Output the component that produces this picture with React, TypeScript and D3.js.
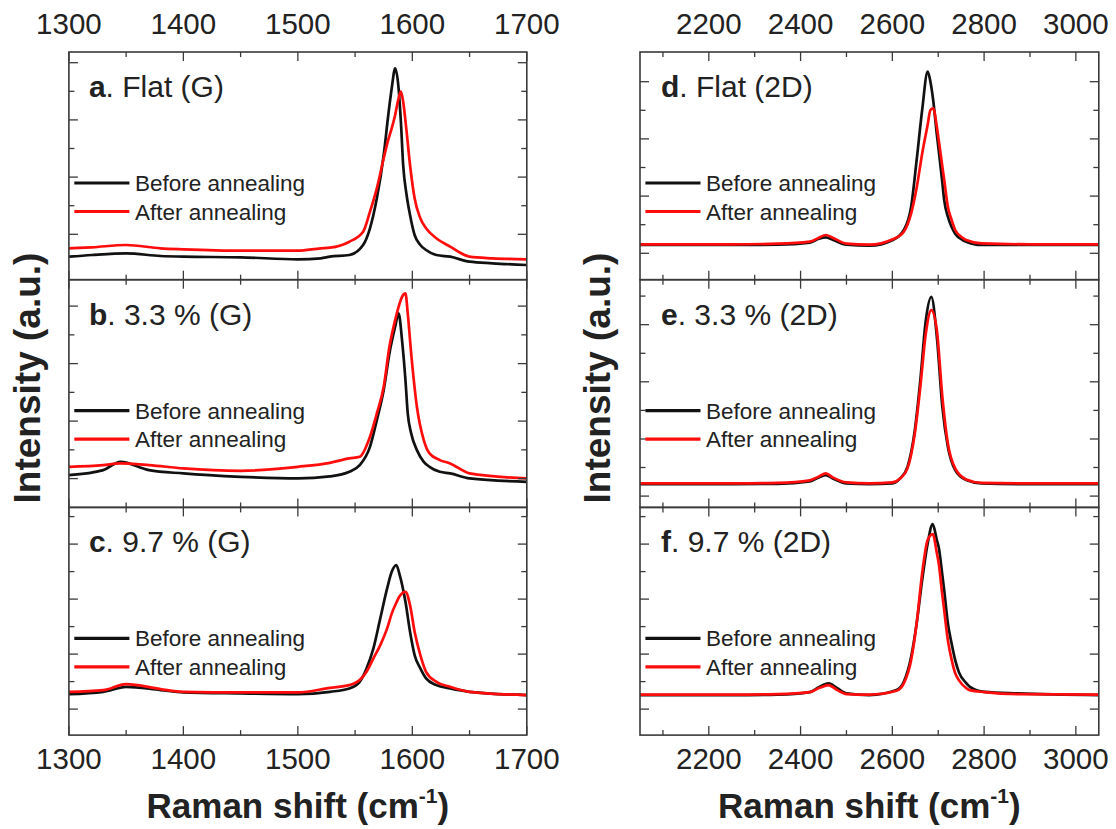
import React from 'react';
import * as d3 from 'd3';

// ---- G band (1300-1700 cm-1), intensity in a.u. ----
const shiftA = [1300, 1320, 1350, 1380, 1400, 1450, 1500, 1520, 1528, 1545, 1557, 1563, 1569, 1575, 1579, 1582, 1585, 1588, 1590, 1592, 1595, 1598, 1602, 1607, 1612, 1621, 1633, 1650, 1670, 1700];
const beforeA = [23, 24.7, 26.4, 23.7, 23, 22.4, 20.4, 21.4, 23, 24.7, 34.7, 51.4, 81.4, 124.7, 164.7, 191.4, 211.4, 191.4, 158, 114.7, 84.7, 64.7, 44.7, 34.7, 29.7, 24.7, 23, 18, 16.4, 14.7];
const afterA = [31.4, 32.4, 34.7, 31.4, 30.4, 29, 29, 31.4, 32, 38, 48, 68, 91.4, 121.4, 140, 151.4, 164.7, 181.4, 188, 178, 148, 114.7, 81.4, 61.4, 51.4, 41.4, 33, 23, 21.4, 20.4];

const shiftB = [1300, 1330, 1345, 1370, 1400, 1450, 1500, 1528, 1545, 1554, 1563, 1569, 1575, 1580, 1585, 1588, 1591, 1594, 1596, 1599, 1604, 1610, 1615, 1624, 1633, 1650, 1700];
const beforeB = [32.3, 37.3, 45.6, 37.3, 34, 30.6, 29, 31, 35.6, 42.3, 60.6, 87.3, 117.3, 154, 180.6, 194, 167.3, 127.3, 94, 74, 57.3, 45.6, 40.6, 35.6, 34, 29, 25.6];
const afterB = [40.6, 42.3, 44, 42.3, 39, 36.6, 40.6, 44.6, 49, 50.6, 70.6, 94, 120.6, 160.6, 187.3, 200.6, 210.6, 214, 194, 154, 100.6, 67.3, 54, 47.3, 44, 34, 29];

const shiftC = [1300, 1330, 1350, 1380, 1400, 1450, 1500, 1528, 1545, 1554, 1560, 1566, 1572, 1578, 1582, 1586, 1589, 1594, 1598, 1602, 1607, 1612, 1621, 1633, 1650, 1700];
const beforeC = [41, 43.3, 48.3, 45, 42.7, 41.7, 41, 43.3, 46.7, 53.3, 66.7, 86.7, 116.7, 146.7, 163.3, 170, 160, 133.3, 103.3, 80, 66.7, 56.7, 50, 46.7, 43.3, 40];
const afterC = [43.3, 45, 51, 46, 43.3, 42.7, 42.7, 47.3, 50, 55, 63.3, 76.7, 90, 106.7, 121.5, 132.3, 139, 143.3, 130, 103.3, 80, 63.3, 53.3, 48.3, 43.3, 40];

// ---- 2D band (2050-3050 cm-1) ----
const shiftD = [2050, 2150, 2250, 2350, 2420, 2440, 2455, 2470, 2500, 2550, 2601, 2625, 2641, 2653, 2665, 2677, 2683, 2689, 2697, 2701, 2709, 2713, 2721, 2729, 2737, 2753, 2761, 2794, 2900, 3050];
const beforeD = [34.7, 34.7, 34.7, 35, 37, 41, 42.4, 40, 35, 34, 39.7, 49.7, 73, 119.7, 169.7, 208, 198, 179.7, 145, 129.7, 97, 79.7, 63, 53, 46, 39.7, 38, 34.7, 34.7, 34.7];
const afterD = [35.4, 35.4, 35.4, 36, 38, 42, 44.7, 42, 36, 35, 40.4, 48, 66.4, 92, 126, 155, 169.7, 171.4, 153, 140, 113, 100, 73, 60, 49.7, 42, 39.7, 36.4, 35.4, 35.4];

const shiftE = [2050, 2150, 2250, 2350, 2420, 2440, 2455, 2470, 2500, 2550, 2600, 2617, 2633, 2649, 2661, 2673, 2685, 2697, 2709, 2721, 2737, 2761, 2794, 2900, 3050];
const beforeE = [23.3, 23.3, 23.3, 23.5, 26, 30, 32.3, 29, 24, 23.3, 24, 29, 40.6, 77.3, 127.3, 187.3, 210.6, 170.6, 100.6, 60.6, 37.3, 27.3, 24, 23.3, 23.3];
const afterE = [24, 24, 24, 24.5, 27, 31, 34, 30, 25, 24, 25, 29, 39, 74, 120.6, 174, 197.3, 177.3, 110.6, 64, 39, 28, 24.6, 24, 24];

const shiftF = [2050, 2150, 2250, 2350, 2420, 2440, 2461, 2480, 2500, 2550, 2609, 2625, 2641, 2653, 2665, 2677, 2688, 2697, 2701, 2709, 2713, 2721, 2729, 2737, 2745, 2761, 2769, 2801, 2874, 3050];
const beforeF = [40, 40, 40, 40.5, 43, 48, 51.7, 47, 41.7, 40, 45, 53.3, 78.3, 111.7, 155, 191.7, 211, 195, 188, 160, 145, 112, 92, 75, 63, 52, 48.3, 43.3, 41.7, 40];
const afterF = [40.5, 40.5, 40.5, 41, 43, 47, 50, 45, 41, 40.5, 44.3, 51.7, 75, 111.7, 161.7, 195, 201, 182, 172, 140, 125, 95, 76, 62, 55, 47, 45, 43, 41, 40.5];

// y tick positions (unlabelled), a.u.
const ticksA = [45.4, 74, 102.6, 131.2, 159.8, 188.4, 217];
const ticksB = [28.8, 57.55, 86.3, 115.05, 143.8, 172.55, 201.3];
const ticksC = [26, 53.5, 81, 108.5, 136, 163.5, 191, 218.5];
const ticksD = [26.4, 55, 83.6, 112.2, 140.8, 169.4, 198];
const ticksE = [11.3, 39.9, 68.4, 97, 125.6, 154.1, 182.7, 211.3];
const ticksF = [26, 53.5, 81, 108.5, 136, 163.5, 191, 218.5];

const gTicks = [1300, 1400, 1500, 1600, 1700];
const gMinor = [1350, 1450, 1550, 1650];
const dTicks = [2200, 2400, 2600, 2800, 3000];
const dMinor = [2100, 2300, 2500, 2700, 2900];

const seriesNames = ['Before annealing', 'After annealing'];
const colors = ['#111111', '#ff0d0d'];

const FONT = '"Liberation Sans", Arial, sans-serif';
const TXT = '#222';
const FRAME = '#3a3a3a';

const columns = [
  {x0: 68.9, x1: 526.8, domain: [1300, 1700], major: gTicks, minor: gMinor, labelOff: 20,
    panels: [
      {letter: 'a', title: 'Flat (G)', xs: shiftA, before: beforeA, after: afterA, ticks: ticksA},
      {letter: 'b', title: '3.3 % (G)', xs: shiftB, before: beforeB, after: afterB, ticks: ticksB},
      {letter: 'c', title: '9.7 % (G)', xs: shiftC, before: beforeC, after: afterC, ticks: ticksC},
    ]},
  {x0: 640, x1: 1098.8, domain: [2050, 3050], major: dTicks, minor: dMinor, labelOff: 21,
    panels: [
      {letter: 'd', title: 'Flat (2D)', xs: shiftD, before: beforeD, after: afterD, ticks: ticksD},
      {letter: 'e', title: '3.3 % (2D)', xs: shiftE, before: beforeE, after: afterE, ticks: ticksE},
      {letter: 'f', title: '9.7 % (2D)', xs: shiftF, before: beforeF, after: afterF, ticks: ticksF},
    ]},
];

const TOP = 52;
const PH = 227.7;
const YMAX = 227.7;

function Column({col, ci}: any) {
  const x = d3.scaleLinear().domain(col.domain).range([col.x0, col.x1]);
  const cx = (col.x0 + col.x1) / 2;
  const yTitleX = ci === 0 ? 40 : 610;
  return (
    <g>
      {col.panels.map((p: any, pi: number) => {
        const top = TOP + pi * PH;
        const bottom = top + PH;
        const y = d3.scaleLinear().domain([0, YMAX]).range([bottom, top]);
        const line = d3.line<number>()
          .x((_, i) => x(p.xs[i]))
          .y(d => y(d))
          .curve(d3.curveMonotoneX);
        const clipId = `clip-${ci}-${pi}`;
        return (
          <g key={pi}>
            <clipPath id={clipId}>
              <rect x={col.x0} y={top} width={col.x1 - col.x0} height={PH} />
            </clipPath>
            <g clipPath={`url(#${clipId})`}>
              {[p.before, p.after].map((s: number[], si: number) => (
                <path key={si} d={line(s) || ''} fill="none" stroke={colors[si]}
                  strokeWidth={2.7} strokeLinejoin="round" />
              ))}
            </g>
            {/* x ticks top & bottom, inward */}
            {col.major.map((v: number) => (
              <g key={'M' + v}>
                <line x1={x(v)} x2={x(v)} y1={top} y2={top + 9} stroke={FRAME} strokeWidth={1.3} />
                <line x1={x(v)} x2={x(v)} y1={bottom} y2={bottom - 9} stroke={FRAME} strokeWidth={1.3} />
              </g>
            ))}
            {col.minor.map((v: number) => (
              <g key={'m' + v}>
                <line x1={x(v)} x2={x(v)} y1={top} y2={top + 5} stroke={FRAME} strokeWidth={1.3} />
                <line x1={x(v)} x2={x(v)} y1={bottom} y2={bottom - 5} stroke={FRAME} strokeWidth={1.3} />
              </g>
            ))}
            {/* y ticks left & right, inward */}
            {p.ticks.map((v: number, ti: number) => {
              const len = ti % 2 === 0 ? 9 : 5.5;
              return (
                <g key={'y' + ti}>
                  <line x1={col.x0} x2={col.x0 + len} y1={y(v)} y2={y(v)} stroke={FRAME} strokeWidth={1.3} />
                  <line x1={col.x1} x2={col.x1 - len} y1={y(v)} y2={y(v)} stroke={FRAME} strokeWidth={1.3} />
                </g>
              );
            })}
            <rect x={col.x0} y={top} width={col.x1 - col.x0} height={PH} fill="none" stroke={FRAME} strokeWidth={1.6} />
            {/* panel label */}
            <text x={col.x0 + col.labelOff} y={top + 45} fontFamily={FONT} fontSize={30} fill={TXT}>
              <tspan fontWeight="bold">{p.letter}</tspan>. {p.title}
            </text>
            {/* legend */}
            {seriesNames.map((nm, si) => {
              const ly = top + 131 + si * 28.5;
              return (
                <g key={nm}>
                  <line x1={col.x0 + 5.4} x2={col.x0 + 60.5} y1={ly} y2={ly} stroke={colors[si]} strokeWidth={3.2} />
                  <text x={col.x0 + 66} y={ly + 8} fontFamily={FONT} fontSize={22.5} fill={TXT}>{nm}</text>
                </g>
              );
            })}
          </g>
        );
      })}
      {/* tick labels top and bottom */}
      {col.major.map((v: number) => (
        <g key={'l' + v}>
          <text x={x(v)} y={33.5} textAnchor="middle" fontFamily={FONT} fontSize={29.5} fill={TXT}>{v}</text>
          <text x={x(v)} y={768.5} textAnchor="middle" fontFamily={FONT} fontSize={29.5} fill={TXT}>{v}</text>
        </g>
      ))}
      <text x={cx} y={818} textAnchor="middle" fontFamily={FONT} fontSize={35} fontWeight="bold" fill={TXT}>
        Raman shift (cm<tspan fontSize={21} dy={-15}>-1</tspan><tspan dy={15}>)</tspan>
      </text>
      <text transform={`translate(${yTitleX},378) rotate(-90)`} textAnchor="middle" fontFamily={FONT}
        fontSize={37} fontWeight="bold" fill={TXT}>Intensity (a.u.)</text>
    </g>
  );
}

export default function App() {
  return (
    <svg width={1116} height={829} style={{position: 'absolute', left: 0, top: 0, background: '#fff'}}>
      <rect width={1116} height={829} fill="#fff" />
      {columns.map((col, ci) => <Column key={ci} col={col} ci={ci} />)}
    </svg>
  );
}
